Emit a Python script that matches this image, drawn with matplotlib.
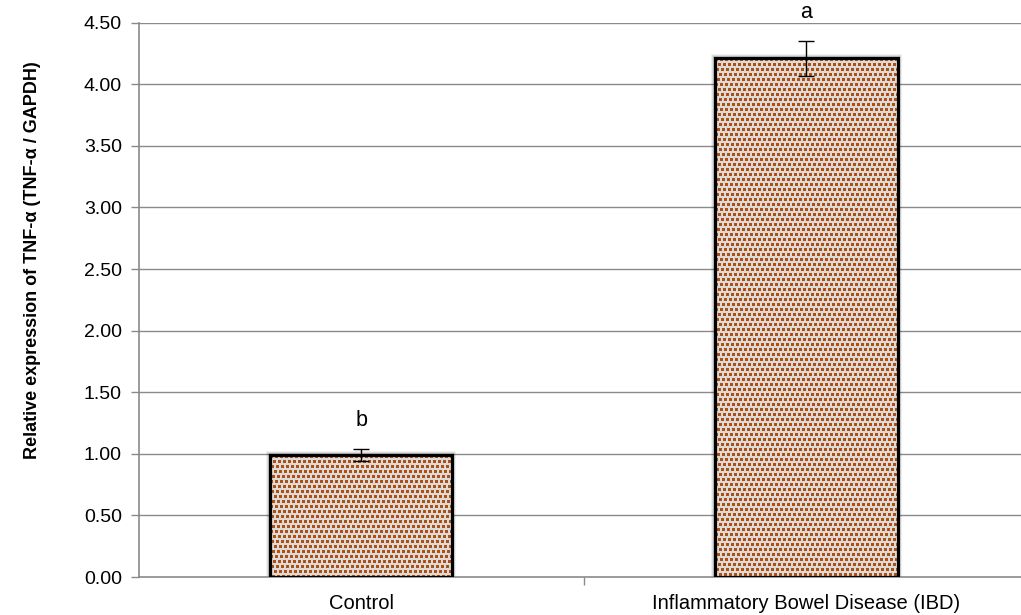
import numpy as np
import matplotlib
matplotlib.use("Agg")
import matplotlib.pyplot as plt
from matplotlib.patches import Rectangle

plt.rcParams['font.family'] = ['Liberation Sans', 'DejaVu Sans']

# Data
groups = ["Control", "Inflammatory Bowel Disease (IBD)"]
means = [0.99, 4.21]
errors = [0.05, 0.145]
letters = ["b", "a"]
y_ticks = [0.0, 0.5, 1.0, 1.5, 2.0, 2.5, 3.0, 3.5, 4.0, 4.5]

W, H, DPI = 1021, 615, 100
fig = plt.figure(figsize=(W / DPI, H / DPI), dpi=DPI)
left_px, right_px, top_px, bot_px = 138.5, 1029.0, 22.7, 577.0
ax = fig.add_axes([left_px / W, 1 - bot_px / H, (right_px - left_px) / W, (bot_px - top_px) / H])

x = np.arange(len(groups))
bar_w = 0.41
ax.set_xlim(-0.5, len(groups) - 0.5)
ax.set_ylim(0, 4.5)

# Grid
grid_c = "#8a8a8a"
for t in y_ticks[1:]:
    ax.axhline(t, color=grid_c, lw=1.0, zorder=0)

# Speckled fill texture
brown = np.array([0.69, 0.31, 0.09])
light = np.array([0.87, 0.86, 0.85])

def texture(nx, ny):
    jj, ii = np.meshgrid(np.arange(nx), np.arange(ny))
    row = ii // 5
    on = (((jj + 2 * row) % 5) < 3) & ((ii % 5) < 3)
    img = np.empty((ny, nx, 3))
    img[:] = light
    img[on] = brown
    return img

px_per_x = (right_px - left_px) / 2.0
px_per_y = (bot_px - top_px) / 4.5

for xi, m in zip(x, means):
    # soft shadow
    for k, a in [(4, 0.06), (3, 0.08), (2, 0.10)]:
        sh = Rectangle((xi - bar_w / 2 - k / px_per_x, 0), bar_w + 2 * k / px_per_x, m + k / px_per_y,
                       facecolor="black", alpha=a, edgecolor="none", zorder=1)
        ax.add_patch(sh)
    nx = int(round(bar_w * px_per_x))
    ny = int(round(m * px_per_y))
    rect = Rectangle((xi - bar_w / 2, 0), bar_w, m, facecolor="none", edgecolor="black", lw=2.3, zorder=3)
    ax.add_patch(rect)
    im = ax.imshow(texture(nx, ny), extent=(xi - bar_w / 2, xi + bar_w / 2, 0, m),
                   origin="upper", interpolation="nearest", aspect="auto", zorder=2)
    im.set_clip_path(rect)

ax.errorbar(x, means, yerr=errors, fmt="none", ecolor="black", elinewidth=1.0,
            capsize=6, capthick=1.0, zorder=4)

for xi, m, e, lab in zip(x, means, errors, letters):
    ax.text(xi, m + e + 0.23, lab, ha="center", va="center", fontsize=15.5, clip_on=False)

ax.set_xlim(-0.5, len(groups) - 0.5)
ax.set_ylim(0, 4.5)

ax.set_yticks(y_ticks)
ax.set_yticklabels([f"{v:.2f}" for v in y_ticks], fontsize=14)
ax.set_xticks([0.5])
ax.set_xticklabels([""])
for xi, g in zip(x, groups):
    ax.text(xi, -0.215, g, ha="center", va="center", fontsize=14.5, clip_on=False)

ax.tick_params(axis="y", direction="out", length=6, color=grid_c, width=1, pad=6)
ax.tick_params(axis="x", direction="out", length=6, color=grid_c, width=1)

for s in ["top", "right"]:
    ax.spines[s].set_visible(False)
for s in ["left", "bottom"]:
    ax.spines[s].set_color(grid_c)
    ax.spines[s].set_linewidth(1.2)

ax.set_ylabel("Relative expression of TNF-α (TNF-α / GAPDH)", fontsize=13, fontweight="bold")
ax.yaxis.set_label_coords(-0.110, 0.572)

fig.savefig("out.png", dpi=DPI)
